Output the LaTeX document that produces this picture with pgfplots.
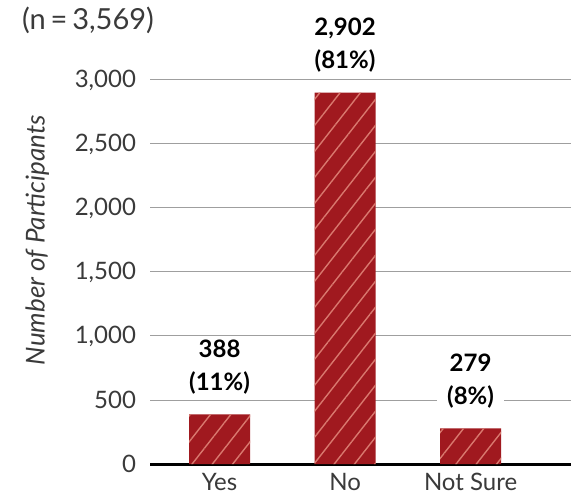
\documentclass[border=0pt]{standalone}
\usepackage{fontspec}
\setmainfont{Lato}
\usepackage{pgfplots}
\pgfplotsset{compat=1.18}
\usepackage{pgfplotstable}
\usetikzlibrary{patterns.meta}
\definecolor{barred}{HTML}{A0191F}
\definecolor{stripe}{HTML}{D9786E}
\definecolor{txt}{HTML}{3A3A3A}
\pgfplotstableread{
x y pct
0 388 11
1 2902 81
2 279 8
}\data
\begin{document}
\begin{tikzpicture}
\begin{axis}[
  scale only axis, width=210.5pt, height=192pt,
  xmin=-0.554, xmax=2.8, ymin=0, ymax=3000,
  clip=false,
  axis x line*=bottom, axis y line*=left,
  y axis line style={draw=none},
  x axis line style={black, line width=1.5pt, -},
  /pgf/number format/assume math mode=true,
  /pgf/number format/1000 sep={,},
  ytick={0,500,...,3000},
  xtick={0,1,2}, xticklabels={Yes,No,Not Sure},
  ymajorgrids, major grid style={gray!75, line width=0.5pt},
  major tick length=0pt, tick style={draw=none},
  tick label style={font=\fontsize{12}{14}\selectfont, text=txt},
  yticklabel style={xshift=-3.5pt},
  xticklabel style={yshift=-1pt},
  ylabel={Number of Participants},
  ylabel style={at={(axis description cs:-0.268,0.583)}, anchor=center, font=\itshape\fontsize{13}{15}\selectfont, text=txt},
]
\addplot[ybar, bar width=30.5pt, fill=barred, draw=none,
  postaction={pattern={Lines[angle=52,distance=8pt,line width=0.7pt]}, pattern color=stripe},
  visualization depends on={\thisrow{pct}\as\pct},
  nodes near coords={\pgfmathprintnumber{\pgfplotspointmeta}\\(\pgfmathprintnumber[fixed,precision=0]{\pct}\%)},
  every node near coord/.append style={align=center, font=\bfseries\fontsize{12}{16.5}\selectfont, fill=white, inner xsep=5pt, inner ysep=1pt, anchor=south, yshift=9pt, text=black}
] table[x=x,y=y] {\data};
\end{axis}
\node[font=\fontsize{14.5}{17}\selectfont, text=txt] at (-31pt,222pt) {(n\,=\,3,569)};
\pgfresetboundingbox
\path[use as bounding box] (-75pt,-19pt) rectangle (210.5pt,232pt);
\end{tikzpicture}
\end{document}
